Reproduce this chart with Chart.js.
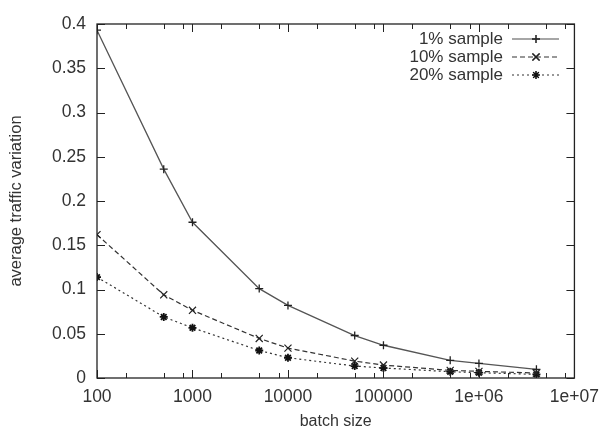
<!DOCTYPE html>
<html>
<head>
<meta charset="utf-8">
<script src="https://cdn.jsdelivr.net/npm/chart.js@4/dist/chart.umd.min.js"></script>
<style>
  body { margin: 0; background: #fff; }
</style>
</head>
<body>
<canvas id="grafico" width="608" height="429"></canvas>
<script>
/* datos del grafico */
const tamanos = [100, 500, 1000, 5000, 10000, 50000, 100000, 500000, 1000000, 4000000];
const muestra1 = [0.393, 0.236, 0.176, 0.101, 0.082, 0.048, 0.037, 0.020, 0.0165, 0.0098];
const muestra10 = [0.162, 0.094, 0.0765, 0.0447, 0.0338, 0.0191, 0.0146, 0.0086, 0.0075, 0.0056];
const muestra20 = [0.114, 0.069, 0.0567, 0.0311, 0.0229, 0.0135, 0.0113, 0.0071, 0.006, 0.0041];
const nombres = ['1% sample', '10% sample', '20% sample'];

// ticks del eje x
const ticksX = [100, 1000, 10000, 100000, 1000000, 10000000];
const etiquetasX = ['100', '1000', '10000', '100000', '1e+06', '1e+07'];
const ticksMenoresX = [2, 5, 8];
const pasoY = 0.05;

const fuente = 'Liberation Sans, Arial, sans-serif';
const colorTexto = '#333';

function puntos(valores) {
    return tamanos.map((x, i) => ({ x: x, y: valores[i] }));
}

// dibuja la leyenda a la derecha arriba, como gnuplot
const leyenda = {
    id: 'leyenda',
    afterDatasetsDraw(chart) {
        const ctx = chart.ctx;
        const filas = [39, 57, 75];
        ctx.save();
        chart.data.datasets.forEach((ds, i) => {
            const y = filas[i];
            ctx.font = '17px ' + fuente;
            ctx.fillStyle = colorTexto;
            ctx.textAlign = 'right';
            ctx.textBaseline = 'middle';
            ctx.fillText(ds.label, 503, y);

            ctx.beginPath();
            ctx.strokeStyle = i == 0 ? '#888' : ds.borderColor;
            ctx.lineWidth = ds.borderWidth;
            ctx.setLineDash(ds.borderDash || []);
            ctx.moveTo(512, y);
            ctx.lineTo(559, y);
            ctx.stroke();
            ctx.setLineDash([]);

            Chart.helpers.drawPoint(ctx, {
                pointStyle: ds.pointStyle,
                radius: ds.pointRadius,
                borderWidth: ds.pointBorderWidth
            }, 536, y);
            ctx.strokeStyle = ds.pointBorderColor;
            ctx.stroke();
        });
        ctx.restore();
    }
};

// marco y ticks hacia adentro
const marco = {
    id: 'marco',
    afterDraw(chart) {
        const ctx = chart.ctx;
        const a = chart.chartArea;
        const ex = chart.scales.x;
        const ey = chart.scales.y;
        ctx.save();
        ctx.strokeStyle = '#222';
        ctx.lineWidth = 1;
        ctx.beginPath();

        for (let v = 0; v <= 0.4 + 1e-9; v += pasoY) {
            const y = Math.round(ey.getPixelForValue(v)) + 0.5;
            ctx.moveTo(a.left, y); ctx.lineTo(a.left + 8, y);
            ctx.moveTo(a.right, y); ctx.lineTo(a.right - 8, y);
        }
        ticksX.forEach((t, i) => {
            const x = Math.round(ex.getPixelForValue(t)) + 0.5;
            ctx.moveTo(x, a.bottom); ctx.lineTo(x, a.bottom - 8);
            ctx.moveTo(x, a.top); ctx.lineTo(x, a.top + 8);
            if (i < ticksX.length - 1) {
                ticksMenoresX.forEach((m) => {
                    const xm = Math.round(ex.getPixelForValue(t * m)) + 0.5;
                    ctx.moveTo(xm, a.bottom); ctx.lineTo(xm, a.bottom - 5);
                    ctx.moveTo(xm, a.top); ctx.lineTo(xm, a.top + 5);
                });
            }
        });
        ctx.stroke();

        ctx.lineWidth = 1.3;
        ctx.strokeRect(a.left, a.top, a.right - a.left, a.bottom - a.top);
        ctx.restore();
    }
};

const config = {
    type: 'line',
    data: {
        datasets: [
            {
                label: nombres[0],
                data: puntos(muestra1),
                borderColor: '#555',
                borderWidth: 1.3,
                pointStyle: 'cross',
                pointRadius: 4,
                pointBorderWidth: 1.3,
                pointBorderColor: '#222',
                tension: 0
            },
            {
                label: nombres[1],
                data: puntos(muestra10),
                borderColor: '#333',
                borderWidth: 1.2,
                borderDash: [5, 3],
                pointStyle: 'crossRot',
                pointRadius: 5,
                pointBorderWidth: 1.2,
                pointBorderColor: '#222',
                tension: 0
            },
            {
                label: nombres[2],
                data: puntos(muestra20),
                borderColor: '#333',
                borderWidth: 1.2,
                borderDash: [2, 3],
                pointStyle: 'star',
                pointRadius: 4,
                pointBorderWidth: 1.8,
                pointBorderColor: '#111',
                tension: 0
            }
        ]
    },
    options: {
        responsive: false,
        animation: false,
        layout: { padding: { top: 24, right: 28, left: 0, bottom: 0 } },
        plugins: {
            legend: { display: false },
            tooltip: { enabled: false }
        },
        scales: {
            x: {
                type: 'logarithmic',
                min: 100,
                max: 10000000,
                grid: { display: false, drawTicks: false },
                border: { display: false },
                afterBuildTicks: (escala) => {
                    escala.ticks = ticksX.map((v) => ({ value: v }));
                },
                afterFit: (escala) => { escala.height = 51; },
                ticks: {
                    autoSkip: false,
                    maxRotation: 0,
                    padding: 9,
                    color: colorTexto,
                    font: { family: fuente, size: 17.5 },
                    callback: (v) => etiquetasX[ticksX.indexOf(v)]
                },
                title: {
                    display: true,
                    text: 'batch size',
                    color: colorTexto,
                    font: { family: fuente, size: 16, lineHeight: 0.9 },
                    padding: { top: 0, bottom: 0 }
                }
            },
            y: {
                min: 0,
                max: 0.4,
                grid: { display: false, drawTicks: false },
                border: { display: false },
                afterFit: (escala) => { escala.width = 97; },
                ticks: {
                    stepSize: pasoY,
                    padding: 11,
                    color: colorTexto,
                    font: { family: fuente, size: 17.5 },
                    callback: (v) => String(parseFloat(v.toFixed(2)))
                },
                title: {
                    display: true,
                    text: 'average traffic variation',
                    color: colorTexto,
                    font: { family: fuente, size: 16.5 },
                    padding: { top: 7, bottom: 0 }
                }
            }
        }
    },
    plugins: [leyenda, marco]
};

new Chart(document.getElementById('grafico'), config);
</script>
</body>
</html>
